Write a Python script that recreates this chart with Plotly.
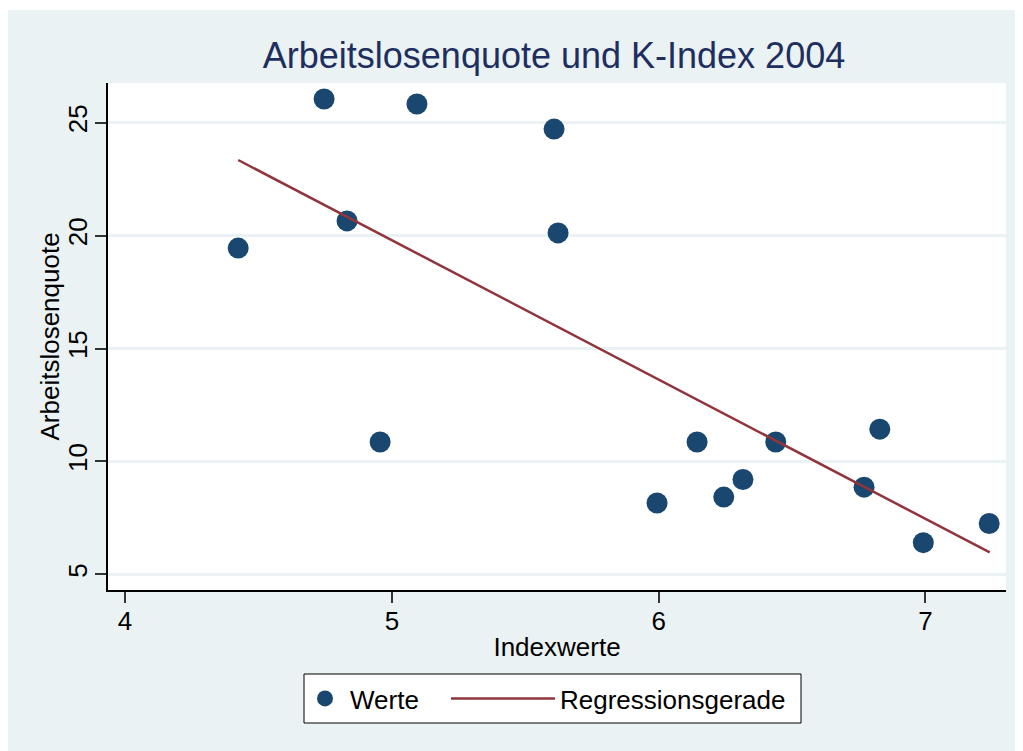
import plotly.graph_objects as go

# Data
index_x = [4.424, 4.746, 4.832, 4.956, 5.094, 5.608, 5.623, 5.994, 6.144,
           6.244, 6.316, 6.439, 6.770, 6.829, 6.992, 7.239]
quote_y = [19.45, 26.05, 20.65, 10.86, 25.83, 24.72, 20.12, 8.16, 10.86,
           8.42, 9.20, 10.86, 8.86, 11.43, 6.40, 7.25]
reg_x = [4.424, 7.241]
reg_y = [23.35, 5.97]

x_ticks = [4, 5, 6, 7]
y_ticks = [5, 10, 15, 20, 25]

title_text = "Arbeitslosenquote und K-Index 2004"
x_title = "Indexwerte"
y_title = "Arbeitslosenquote"

BG = "#EAF2F3"
NAVY = "#1A476F"
MAROON = "#90353B"
FONT = "Liberation Sans, Arial, sans-serif"

# page has an 8px body margin; figure fills the rest of the window
OFF = 8
W, H = 1023 - OFF, 751 - OFF
L, T = 108 - OFF, 83 - OFF
R = W - (1006 - OFF)
B = H - (590 - OFF)
pw = W - L - R
ph = H - T - B


def px_x(p):
    """page pixel x -> paper coordinate"""
    return (p - OFF - L) / pw


def px_y(p):
    """page pixel y -> paper coordinate"""
    return (H - B - (p - OFF)) / ph


fig = go.Figure()
fig.add_trace(go.Scatter(
    x=index_x, y=quote_y, mode="markers", name="Werte",
    marker=dict(color=NAVY, size=21, line=dict(width=0)),
    legend="legend",
))
fig.add_trace(go.Scatter(
    x=reg_x, y=reg_y, mode="lines", name="Regressionsgerade",
    line=dict(color=MAROON, width=2.5),
    legend="legend2",
))

shapes = [
    # 2px white strip at the very top
    dict(type="rect", xref="paper", yref="paper",
         x0=px_x(0), x1=px_x(1030), y0=px_y(10), y1=px_y(0),
         fillcolor="white", line=dict(width=0), layer="above"),
    # legend frame
    dict(type="rect", xref="paper", yref="paper",
         x0=px_x(304), x1=px_x(801), y0=px_y(723), y1=px_y(674),
         fillcolor="white", line=dict(color="black", width=1), layer="above"),
]

annotations = [
    dict(text=y_title, xref="paper", yref="paper",
         x=px_x(49), y=0.5, xanchor="center", yanchor="middle",
         textangle=-90, showarrow=False, font=dict(size=26, color="black")),
]

legend_common = dict(
    orientation="h", yanchor="middle", y=px_y(698.5),
    bgcolor="rgba(0,0,0,0)", borderwidth=0,
    font=dict(size=26, color="black"), itemsizing="trace",
)

fig.update_layout(
    width=W, height=H,
    margin=dict(l=L, r=R, t=T, b=B, pad=0),
    paper_bgcolor=BG, plot_bgcolor="white",
    font=dict(family=FONT, size=26, color="black"),
    title=dict(text=title_text, font=dict(size=36, color="#1E2F5F"),
               x=(554 - OFF) / W, xanchor="center",
               y=1 - (55 - OFF) / H, yanchor="middle"),
    shapes=shapes,
    annotations=annotations,
    showlegend=True,
    legend=dict(x=px_x(300), xanchor="left", itemwidth=40, **legend_common),
    legend2=dict(x=px_x(446), xanchor="left", itemwidth=104, **legend_common),
)

fig.update_xaxes(
    range=[3.936, 7.302], tickvals=x_ticks, ticktext=[str(v) for v in x_ticks],
    showgrid=False, zeroline=False,
    showline=True, linecolor="black", linewidth=1.5, mirror=False,
    ticks="outside", ticklen=11, tickwidth=1.5, tickcolor="#333333",
    tickfont=dict(size=26), ticklabelstandoff=-4,
    title=dict(text=x_title, font=dict(size=26), standoff=3),
)
fig.update_yaxes(
    range=[4.305, 26.76], tickvals=y_ticks, ticktext=[str(v) for v in y_ticks],
    showgrid=True, gridcolor=BG, gridwidth=2.5, zeroline=False,
    showline=True, linecolor="black", linewidth=1.5, mirror=False,
    ticks="outside", ticklen=11, tickwidth=1.5, tickcolor="#333333",
    tickangle=-90, tickfont=dict(size=26), ticklabelstandoff=-2,
)

fig.write_html("out.html")
